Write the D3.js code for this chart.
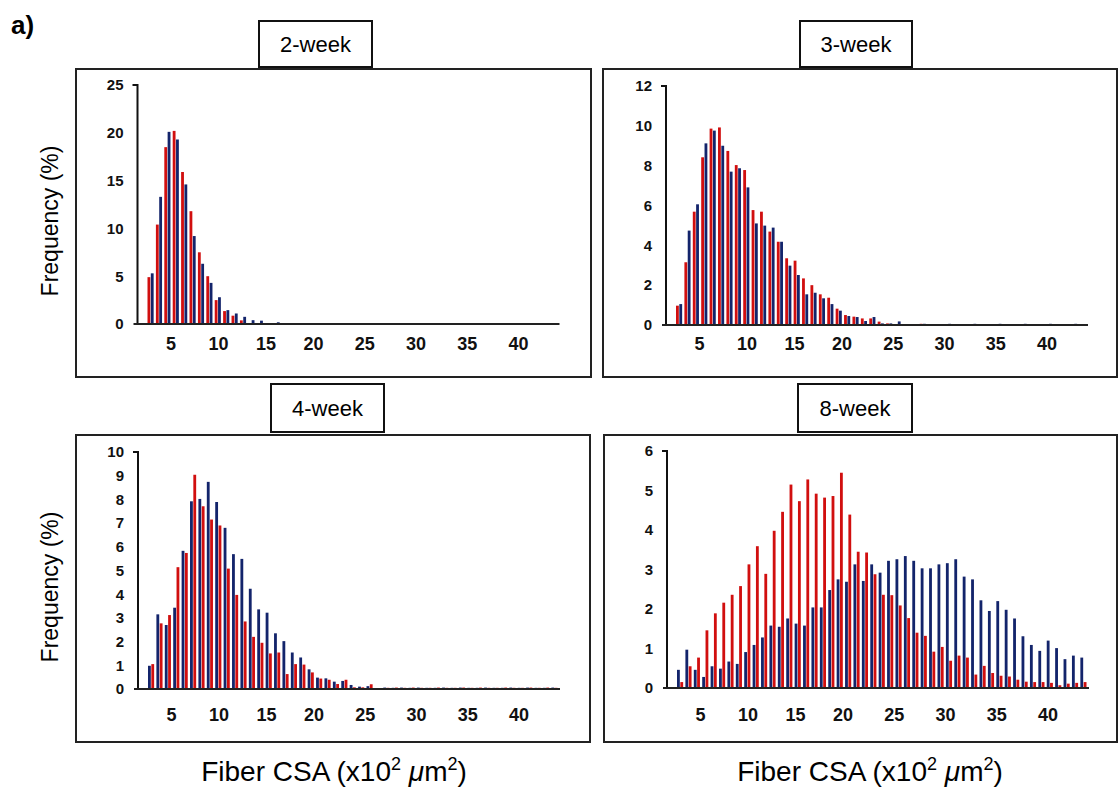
<!DOCTYPE html>
<html>
<head>
<meta charset="utf-8">
<script src="https://cdn.jsdelivr.net/npm/d3@7"></script>
<style>
body { margin: 0; background: #fff; }
text { font-family: "Liberation Sans", Arial, Helvetica, sans-serif; }
</style>
</head>
<body>
<svg id="stage" width="1120" height="789"></svg>
<script>

// bin categories (49 bins) and the x tick labels
var binIds = d3.range(49);
var xTickLabels = [5, 10, 15, 20, 25, 30, 35, 40];

// 2-week
var w2Red  = [4.9, 10.4, 18.5, 20.2, 15.9, 11.8, 7.5, 5.0, 2.5, 1.35, 0.87, 0.38, 0.05, 0, 0, 0, 0, 0, 0, 0,
              0, 0, 0, 0, 0, 0, 0, 0, 0, 0, 0, 0, 0, 0, 0, 0, 0, 0, 0, 0,
              0, 0, 0, 0, 0, 0, 0, 0, 0];
var w2Blue = [5.3, 13.3, 20.1, 19.3, 14.6, 9.2, 6.3, 4.3, 2.8, 1.45, 1.1, 0.75, 0.4, 0.35, 0, 0.18, 0, 0, 0, 0,
              0, 0, 0, 0, 0, 0, 0, 0, 0, 0, 0, 0, 0, 0, 0, 0, 0, 0, 0, 0,
              0, 0, 0, 0, 0, 0, 0, 0, 0];

// 3-week
var w3Red  = [0.97, 3.15, 5.69, 8.42, 9.86, 9.92, 8.74, 8.03, 7.78, 5.77, 5.69, 4.69, 4.18, 3.35, 3.23, 2.34, 2.0, 1.54, 1.37, 0.82,
              0.5, 0.42, 0.33, 0.33, 0.17, 0.08, 0.05, 0, 0.05, 0.06, 0.05, 0.04, 0, 0, 0, 0, 0, 0, 0, 0,
              0, 0, 0, 0, 0, 0, 0, 0, 0];
var w3Blue = [1.05, 4.74, 6.06, 9.12, 9.76, 9.0, 7.7, 7.87, 6.91, 5.1, 4.99, 4.89, 4.18, 2.98, 2.51, 1.54, 1.62, 1.34, 1.05, 0.72,
              0.45, 0.4, 0.2, 0.4, 0.08, 0.08, 0.18, 0, 0.05, 0.06, 0.05, 0.05, 0.06, 0.05, 0.05, 0.06, 0.05, 0.05, 0.06, 0.05,
              0.05, 0.06, 0.05, 0.05, 0.06, 0.05, 0.05, 0.06, 0.05];

// 4-week
var w4Blue = [0.98, 3.15, 2.7, 3.43, 5.83, 7.92, 8.02, 8.74, 7.89, 6.8, 5.69, 5.49, 4.23, 3.36, 3.22, 2.35, 2.02, 1.54, 1.33, 0.83,
              0.48, 0.45, 0.31, 0.34, 0.17, 0.1, 0.12, 0, 0.06, 0.05, 0.06, 0.05, 0.06, 0.05, 0.05, 0.06, 0.05, 0.06, 0.05, 0.05,
              0.06, 0.05, 0.05, 0.06, 0.05, 0.06, 0.05, 0.05, 0.06];
var w4Red  = [1.05, 2.77, 3.12, 5.14, 5.74, 9.04, 7.71, 7.15, 6.9, 5.08, 3.97, 2.85, 2.2, 1.95, 1.5, 1.54, 0.63, 1.05, 1.03, 0.7,
              0.44, 0.39, 0.21, 0.39, 0.07, 0.07, 0.2, 0, 0.05, 0.06, 0.05, 0.06, 0.05, 0.05, 0.06, 0.05, 0.05, 0.06, 0.05, 0.06,
              0.05, 0.05, 0.06, 0.05, 0.05, 0.06, 0.05, 0.06, 0.05];

// 8-week
var w8Blue = [0.46, 0.97, 0.46, 0.28, 0.55, 0.49, 0.67, 0.61, 0.91, 1.09, 1.28, 1.58, 1.55, 1.76, 1.63, 1.58, 2.04, 2.04, 2.48, 2.75,
              2.69, 3.13, 2.71, 3.13, 2.92, 3.22, 3.26, 3.34, 3.22, 3.03, 3.03, 3.13, 3.16, 3.26, 2.82, 2.75, 2.22, 1.95, 2.2, 1.98,
              1.76, 1.31, 1.09, 0.94, 1.2, 1.01, 0.73, 0.82, 0.77];
var w8Red  = [0.15, 0.55, 0.77, 1.46, 1.89, 2.16, 2.36, 2.58, 3.13, 3.59, 2.89, 3.98, 4.46, 5.15, 4.73, 5.28, 4.92, 4.82, 4.86, 5.45,
              4.39, 3.45, 3.43, 2.88, 2.36, 2.35, 2.09, 1.77, 1.4, 1.32, 0.92, 1.04, 0.69, 0.82, 0.77, 0.34, 0.56, 0.38, 0.31, 0.29,
              0.21, 0.16, 0.15, 0.15, 0.13, 0.07, 0.11, 0.13, 0.15];

var RED = "#d10f0f";
var BLUE = "#13246b";

//panel layout
var panels = [
  {title: "2-week", series: [w2Red, w2Blue], colors: [RED, BLUE], yMax: 25, nTicks: 5,
   box: [76, 69, 515, 308], tbox: [259, 21, 113, 46], ox: 137.5, yTop: 85, yBot: 324, labY: 350},
  {title: "3-week", series: [w3Red, w3Blue], colors: [RED, BLUE], yMax: 12, nTicks: 6,
   box: [603, 69, 514, 308], tbox: [800, 21, 112, 46], ox: 666, yTop: 86, yBot: 325, labY: 350},
  {title: "4-week", series: [w4Blue, w4Red], colors: [BLUE, RED], yMax: 10, nTicks: 10,
   box: [76, 435, 514, 307], tbox: [271, 384, 113, 48], ox: 138, yTop: 452, yBot: 689, labY: 721},
  {title: "8-week", series: [w8Blue, w8Red], colors: [BLUE, RED], yMax: 6, nTicks: 6,
   box: [604, 435, 513, 307], tbox: [798, 384, 114, 48], ox: 667, yTop: 451, yBot: 688, labY: 721}
];

var svg = d3.select("#stage");

svg.append("text").attr("x", 11).attr("y", 34)
  .style("font-size", "26px").style("font-weight", "bold").text("a)");

panels.forEach(function(p){

  var g = svg.append("g");

  // frame + title box
  g.append("rect").attr("x", p.box[0]).attr("y", p.box[1]).attr("width", p.box[2]).attr("height", p.box[3])
    .attr("fill", "none").attr("stroke", "#222").attr("stroke-width", 2);
  g.append("rect").attr("x", p.tbox[0]).attr("y", p.tbox[1]).attr("width", p.tbox[2]).attr("height", p.tbox[3])
    .attr("fill", "#fff").attr("stroke", "#111").attr("stroke-width", 2);
  g.append("text").attr("x", p.tbox[0] + p.tbox[2]/2).attr("y", p.tbox[1] + p.tbox[3]/2 + 8)
    .attr("text-anchor", "middle").style("font-size", "22px").text(p.title);

  var y = d3.scaleLinear().domain([0, p.yMax]).range([p.yBot, p.yTop]);
  var x = d3.scaleBand().domain(binIds).range([p.ox + 10, p.ox + 420]).paddingInner(0.21);
  var sub = d3.scaleBand().domain([0, 1]).range([0, x.bandwidth()]);
  // tick labels were placed by hand in the original, so they don't sit on a straight line
  var xl = d3.scaleLinear().domain([5, 20, 40]).range([p.ox + 33.5, p.ox + 176, p.ox + 381]);

  p.series.forEach(function(vals, si){
    g.append("g").selectAll("rect")
      .data(vals)
      .enter().append("rect")
      .attr("x", function(d, i){ return x(binIds[i]) + sub(si); })
      .attr("y", function(d){ return y(d); })
      .attr("width", sub.bandwidth() - 0.5)
      .attr("height", function(d){ return p.yBot - y(d); })
      .attr("fill", p.colors[si]);
  });

  // axes
  var yAx = g.append("g").attr("transform", "translate(" + p.ox + ",0)")
    .call(d3.axisLeft(y).ticks(p.nTicks).tickSize(0).tickPadding(14));
  yAx.select(".domain").remove();
  yAx.selectAll("text").style("font-size", "15px").style("font-weight", "bold").attr("fill", "#111")
    .style("font-family", "\"Liberation Sans\", Arial, sans-serif");

  g.append("path").attr("d", "M" + (p.ox - 5) + "," + p.yTop + "H" + p.ox + "V" + p.yBot)
    .attr("fill", "none").attr("stroke", "#111").attr("stroke-width", 2);
  g.append("line").attr("x1", p.ox - 4).attr("x2", p.ox + 422).attr("y1", p.yBot).attr("y2", p.yBot)
    .attr("stroke", "#222").attr("stroke-width", 2);

  g.append("g").selectAll("text")
    .data(xTickLabels)
    .enter().append("text")
    .attr("x", function(d){ return xl(d); })
    .attr("y", p.labY)
    .attr("text-anchor", "middle")
    .style("font-size", "18px").style("font-weight", "bold").attr("fill", "#111")
    .text(function(d){ return d; });
});

// axis titles
[221, 587].forEach(function(cy){
  svg.append("text").attr("transform", "translate(58," + cy + ") rotate(-90)")
    .attr("text-anchor", "middle").style("font-size", "23px").text("Frequency (%)");
});

[334, 870].forEach(function(cx){
  var t = svg.append("text").attr("x", cx).attr("y", 781).attr("text-anchor", "middle").style("font-size", "28px");
  t.append("tspan").text("Fiber CSA (x10");
  t.append("tspan").attr("dy", -11).style("font-size", "18px").text("2");
  t.append("tspan").attr("dy", 11).text(" ");
  t.append("tspan").style("font-style", "italic").text("\u03bc");
  t.append("tspan").text("m");
  t.append("tspan").attr("dy", -11).style("font-size", "18px").text("2");
  t.append("tspan").attr("dy", 11).text(")");
});

</script>
</body>
</html>
